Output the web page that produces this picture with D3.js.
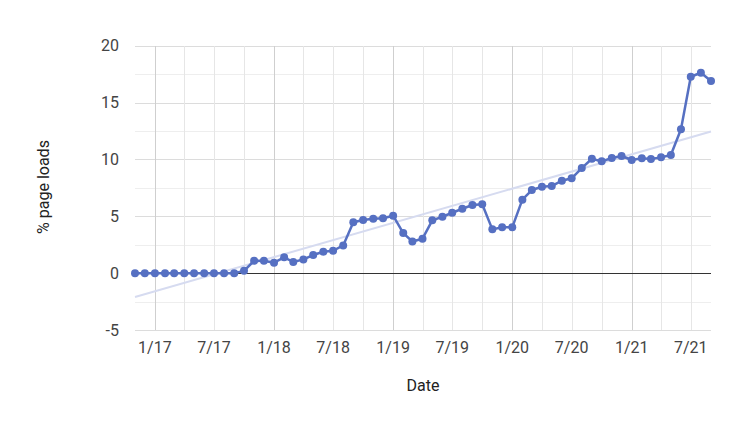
<!DOCTYPE html>
<html>
<head>
<meta charset="UTF-8">
<title>% page loads</title>
<style>
body { margin: 0; background: #fff; }
svg { display: block; font-family: Roboto, "Noto Sans", sans-serif; }
.grid line { shape-rendering: crispEdges; }
</style>
</head>
<body>
<svg width="751" height="421"></svg>
<script src="https://cdn.jsdelivr.net/npm/d3@7"></script>
<script>
// monthly samples, Nov 2016 .. Sep 2021
var firstMonth = "2016-11",
    lastMonth = "2021-09";

var pageLoads = [
  0, 0, 0, 0, 0, 0, 0, 0, 0, 0, 0, 0.2,
  1.09, 1.09, 0.92, 1.39, 0.98, 1.21, 1.59, 1.88, 1.97, 2.44,
  4.47, 4.67, 4.79, 4.82, 5.05, 3.52, 2.78, 3.03, 4.64, 4.96,
  5.31, 5.66, 5.99, 6.05, 3.85, 4.03, 4.03, 6.46, 7.31, 7.60,
  7.66, 8.13, 8.34, 9.24, 10.06, 9.83, 10.12, 10.30, 9.95, 10.10,
  10.04, 10.18, 10.39, 12.65, 17.27, 17.62, 16.9
];

// trend line value at first and last month
var trendEnds = [-2.1, 12.45];

var xTickLabels = ["1/17", "7/17", "1/18", "7/18", "1/19", "7/19", "1/20", "7/20", "1/21", "7/21"];
var yTicks = [-5, 0, 5, 10, 15, 20];

var svg = d3.select("svg"),
    parseMonth = d3.timeParse("%Y-%m"),
    parseTick = d3.timeParse("%m/%y"),
    start = parseMonth(firstMonth),
    end = parseMonth(lastMonth),
    months = d3.timeMonth.range(start, d3.timeMonth.offset(end, 1));

var x = d3.scaleTime().domain([start, end]).range([135, 711]),
    y = d3.scaleLinear().domain([-5, 20]).range([330, 45.7]);

var grid = svg.append("g").attr("class", "grid");

// horizontal grid, every 2.5
grid.selectAll("line.h")
  .data(d3.range(-5, 20.01, 2.5))
  .enter().append("line")
    .attr("class", "h")
    .attr("x1", x.range()[0]).attr("x2", x.range()[1])
    .attr("y1", d => Math.round(y(d)) + 0.5).attr("y2", d => Math.round(y(d)) + 0.5)
    .attr("stroke", d => d % 5 === 0 ? "#dcdcdc" : "#eeeeee");

// vertical grid, every quarter, darker at each new year
var quarters = d3.timeMonth.every(3).range(start, end);
grid.selectAll("line.v")
  .data(quarters)
  .enter().append("line")
    .attr("class", "v")
    .attr("x1", d => Math.round(x(d)) + 0.5).attr("x2", d => Math.round(x(d)) + 0.5)
    .attr("y1", y(20)).attr("y2", y(-5))
    .attr("stroke", d => d.getMonth() === 0 ? "#cfcfcf" : "#e6e6e6");

// zero baseline
svg.append("line")
    .attr("x1", x.range()[0]).attr("x2", x.range()[1])
    .attr("y1", Math.round(y(0)) + 0.5).attr("y2", Math.round(y(0)) + 0.5)
    .attr("stroke", "#333")
    .attr("shape-rendering", "crispEdges");

// y tick labels
svg.append("g").selectAll("text")
  .data(yTicks)
  .enter().append("text")
    .attr("x", 119)
    .attr("y", d => y(d))
    .attr("dy", "0.35em")
    .attr("text-anchor", "end")
    .attr("font-size", 16)
    .attr("fill", "#444")
    .text(d => d);

// x tick labels
svg.append("g").selectAll("text")
  .data(xTickLabels)
  .enter().append("text")
    .attr("x", d => x(parseTick(d)))
    .attr("y", 347)
    .attr("dy", "0.35em")
    .attr("text-anchor", "middle")
    .attr("font-size", 16)
    .attr("fill", "#444")
    .text(d => d);

// axis titles
svg.append("text")
    .attr("transform", "translate(43,187) rotate(-90)")
    .attr("dy", "0.35em")
    .attr("text-anchor", "middle")
    .attr("font-size", 16)
    .attr("fill", "#222")
    .text("% page loads");

svg.append("text")
    .attr("x", 423)
    .attr("y", 385.5)
    .attr("dy", "0.35em")
    .attr("text-anchor", "middle")
    .attr("font-size", 16)
    .attr("fill", "#222")
    .text("Date");

// trend line
svg.append("line")
    .attr("x1", x(start)).attr("y1", y(trendEnds[0]))
    .attr("x2", x.range()[1]).attr("y2", y(trendEnds[1]))
    .attr("stroke", "#d6dbf0")
    .attr("stroke-width", 2);

// series
var series = months.map((m, i) => ({date: m, value: pageLoads[i]}));

svg.append("path")
    .datum(series)
    .attr("fill", "none")
    .attr("stroke", "#5670c2")
    .attr("stroke-width", 2.5)
    .attr("stroke-linejoin", "round")
    .attr("d", d3.line().x(d => x(d.date)).y(d => y(d.value)));

svg.append("g").selectAll("circle")
  .data(series)
  .enter().append("circle")
    .attr("cx", d => x(d.date))
    .attr("cy", d => y(d.value))
    .attr("r", 4)
    .attr("fill", "#5670c2");
</script>
</body>
</html>
